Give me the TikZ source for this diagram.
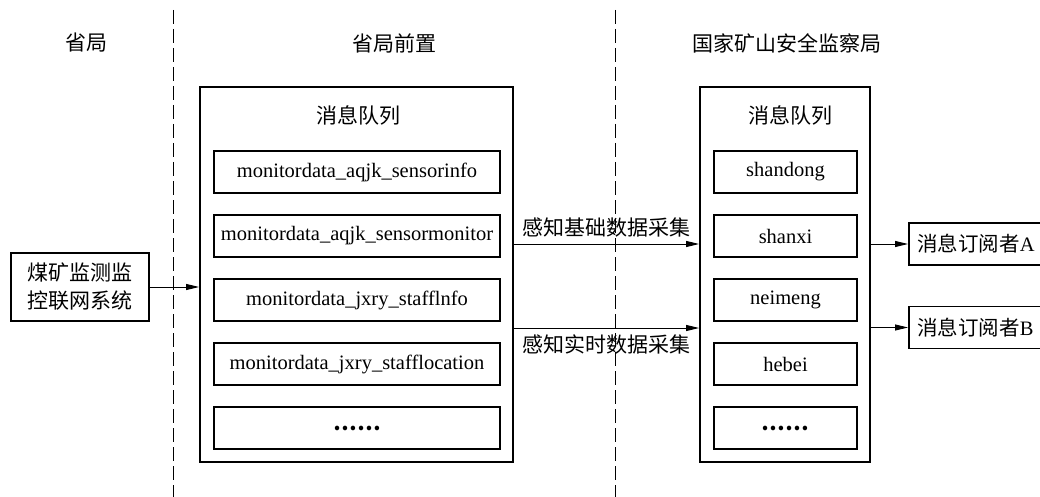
\documentclass[tikz,border=0pt]{standalone}
\usepackage{fontspec}
\setmainfont{Liberation Serif}
\newfontfamily\cjk{Noto Sans CJK SC}
\usetikzlibrary{arrows.meta}
\begin{document}
\begin{tikzpicture}[x=1pt,y=-1pt,
  every node/.style={font=\fontsize{20.5}{27}\selectfont, inner sep=0pt},
  bigbox/.style={draw, line width=1.8pt, minimum width=#1, minimum height=375pt},
  qbox/.style={draw, line width=1.8pt, minimum width=#1, minimum height=42pt},
  sysbox/.style={draw, line width=1.8pt, minimum width=138pt, minimum height=68pt, align=center, font=\fontsize{21}{28}\selectfont\cjk},
  subbox/.style={draw, line width=1.8pt, minimum width=140pt, minimum height=42pt, anchor=west, text width=135pt, align=left},
  arr/.style={-{Triangle[length=13pt,width=6pt]}, line width=0.9pt},
  divider/.style={line width=0.9pt, dash pattern=on 14pt off 5pt},
  head/.style={font=\fontsize{21}{27}\selectfont\cjk},
  dots/.style={font=\fontsize{21}{27}\selectfont\cjk\bfseries}
]
\useasboundingbox (0,0) rectangle (1040,497);

% dividers
\draw[divider] (173.5,10) -- (173.5,497);
\draw[divider] (615,10) -- (615,497);

% headers
\node[head] (h1) at (86,43) {省局};
\node[head] (h2) at (394,43) {省局前置};
\node[head] (h3) at (787,43) {国家矿山安全监察局};

% left system
\node[sysbox] (sys) at (80,287) {煤矿监测监\\控联网系统};

% province front queue
\node[bigbox=313pt] (bigL) at (356.5,274.5) {};
\node[head] (tL) at (358,115) {消息队列};
\node[qbox=286pt] (q1) at (357,172) {monitordata\_aqjk\_sensorinfo};
\node[qbox=286pt] (q2) at (357,236) {monitordata\_aqjk\_sensormonitor};
\node[qbox=286pt] (q3) at (357,300) {monitordata\_jxry\_stafflnfo};
\node[qbox=286pt] (q4) at (357,364) {monitordata\_jxry\_stafflocation};
\node[qbox=286pt, dots] (q5) at (357,428) {……};

% national queue
\node[bigbox=170pt] (bigR) at (785,274.5) {};
\node[head] (tR) at (790,115) {消息队列};
\node[qbox=143pt] (r1) at (785.5,172) {shandong};
\node[qbox=143pt] (r2) at (785.5,236) {shanxi};
\node[qbox=143pt] (r3) at (785.5,300) {neimeng};
\node[qbox=143pt] (r4) at (785.5,364) {hebei};
\node[qbox=143pt, dots] (r5) at (785.5,428) {……};

% subscribers
\node[subbox] (subA) at (908,244) {\hspace*{6pt}{\cjk 消息订阅者}A};
\node[subbox] (subB) at (908,327.5) {\hspace*{6pt}{\cjk 消息订阅者}B};

% connectors
\draw[arr] (sys.east) -- (bigL.west |- sys.east);
\coordinate (a1) at (0,244);
\coordinate (a2) at (0,328);
\draw[arr] (bigL.east |- a1) -- node[above=6pt, head] (l1) {感知基础数据采集} (bigR.west |- a1);
\draw[arr] (bigL.east |- a2) -- node[below=6pt, head] (l2) {感知实时数据采集} (bigR.west |- a2);
\draw[arr] (bigR.east |- subA.west) -- (subA.west);
\draw[arr] (bigR.east |- subB.west) -- (subB.west);
\end{tikzpicture}
\end{document}
